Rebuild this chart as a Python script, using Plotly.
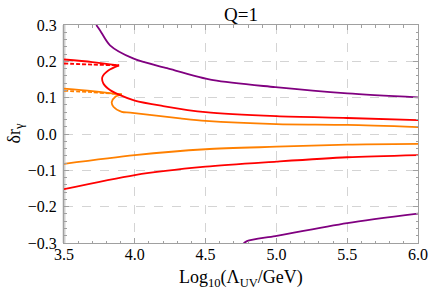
import plotly.graph_objects as go

# ---- axis ticks ----
x_ticks = [3.5, 4.0, 4.5, 5.0, 5.5, 6.0]
x_tick_labels = ["3.5", "4.0", "4.5", "5.0", "5.5", "6.0"]
y_ticks = [-0.3, -0.2, -0.1, 0.0, 0.1, 0.2, 0.3]
y_tick_labels = ["−0.3", "−0.2", "−0.1", "0.0", "0.1", "0.2", "0.3"]

# ---- purple (upper / lower) ----
purple_up_x = [3.728, 3.755, 3.825, 3.988, 4.228, 4.554, 4.992, 5.501, 6.0]
purple_up_y = [0.300, 0.285, 0.244, 0.208, 0.181, 0.148, 0.129, 0.112, 0.101]
purple_lo_x = [4.75, 4.792, 4.992, 5.5, 6.0]
purple_lo_y = [-0.308, -0.295, -0.281, -0.245, -0.219]

# ---- red ----
red_top_x = [3.5, 3.7, 3.889]
red_top_y = [0.205, 0.198, 0.189]
red_dash_x = [3.5, 3.7, 3.889]
red_dash_y = [0.194, 0.191, 0.189]
red_mid_x = [3.889, 3.813, 3.771, 3.778, 3.825, 3.884, 4.0, 4.2, 4.5, 5.0, 5.5, 6.0]
red_mid_y = [0.189, 0.175, 0.157, 0.139, 0.121, 0.109, 0.092, 0.077, 0.060, 0.049, 0.044, 0.038]
red_lo_x = [3.5, 4.0, 4.5, 5.0, 5.5, 6.0]
red_lo_y = [-0.152, -0.113, -0.090, -0.076, -0.064, -0.058]

# ---- orange ----
orange_top_x = [3.5, 3.7, 3.908]
orange_top_y = [0.125, 0.118, 0.109]
orange_dash_x = [3.5, 3.7, 3.908]
orange_dash_y = [0.119, 0.115, 0.109]
orange_mid_x = [3.908, 3.861, 3.837, 3.849, 3.908, 3.967, 4.32, 4.5, 5.0, 5.5, 6.0]
orange_mid_y = [0.109, 0.102, 0.088, 0.075, 0.061, 0.059, 0.043, 0.036, 0.027, 0.025, 0.019]
orange_lo_x = [3.5, 4.0, 4.5, 5.0, 5.5, 6.0]
orange_lo_y = [-0.082, -0.058, -0.042, -0.035, -0.029, -0.027]

PURPLE = "rgb(128,0,128)"
RED = "rgb(255,0,0)"
ORANGE = "rgb(255,128,0)"
LW = 1.8

fig = go.Figure()

def add(x, y, color, shape="spline", dash="solid"):
    fig.add_trace(go.Scatter(x=x, y=y, mode="lines",
                             line=dict(color=color, width=LW, shape=shape, dash=dash,
                                       smoothing=0.8 if shape == "spline" else None),
                             showlegend=False, hoverinfo="skip"))

add(purple_up_x, purple_up_y, PURPLE)
add(purple_lo_x, purple_lo_y, PURPLE)
add(orange_top_x, orange_top_y, ORANGE)
add(orange_dash_x, orange_dash_y, ORANGE, dash="4px,2px")
add(orange_mid_x, orange_mid_y, ORANGE)
add(orange_lo_x, orange_lo_y, ORANGE)
add(red_top_x, red_top_y, RED)
add(red_dash_x, red_dash_y, RED, dash="4px,2px")
add(red_mid_x, red_mid_y, RED)
add(red_lo_x, red_lo_y, RED)

FONT = "Liberation Serif"
axis_common = dict(
    showline=True, linecolor="#a0a0a0", linewidth=1, mirror="allticks",
    ticks="inside", ticklen=5, tickcolor="#a0a0a0", tickwidth=1,
    showgrid=True, gridcolor="#d4d4d4", griddash="dash", gridwidth=1,
    zeroline=False, automargin=False,
    tickfont=dict(family=FONT, size=16, color="black"),
)

fig.update_xaxes(range=[3.5, 6.0], tickvals=x_ticks, ticktext=x_tick_labels,
                 minor=dict(ticks="inside", ticklen=2.5, tickcolor="#a0a0a0", dtick=0.1, showgrid=False),
                 ticklabelstandoff=-3,
                 **axis_common)
fig.update_yaxes(range=[-0.3, 0.3], tickvals=y_ticks, ticktext=y_tick_labels,
                 minor=dict(ticks="inside", ticklen=2.5, tickcolor="#a0a0a0", dtick=0.02, showgrid=False),
                 ticklabelstandoff=3,
                 **axis_common)

fig.add_shape(type="line", xref="paper", yref="paper", x0=0, x1=0, y0=0, y1=1,
              line=dict(color="#cfcfcf", width=3), layer="below")

fig.add_annotation(text="Q=1", xref="paper", yref="paper", x=0.5, y=1, yshift=-2,
                   xanchor="center", yanchor="bottom", showarrow=False,
                   font=dict(family=FONT, size=19, color="black"))
fig.add_annotation(text="Log<sub>10</sub>(Λ<sub>UV</sub>/GeV)", xref="paper", yref="paper",
                   x=0.5, y=0, yshift=-35, xanchor="center", yanchor="middle", showarrow=False,
                   font=dict(family=FONT, size=18, color="black"))
fig.add_annotation(text="δr<sub>γ</sub>", xref="paper", yref="paper",
                   x=0, y=0.5, xshift=-36, xanchor="right", yanchor="middle", showarrow=False,
                   textangle=-90, font=dict(family=FONT, size=18, color="black"))

fig.update_layout(width=429, height=291, margin=dict(l=64, r=11, t=25, b=48, autoexpand=False),
                  plot_bgcolor="white", paper_bgcolor="white")

fig.write_html("out.html", config={"displayModeBar": False},
               post_script="document.body.style.margin='0';document.body.style.overflow='hidden';")
